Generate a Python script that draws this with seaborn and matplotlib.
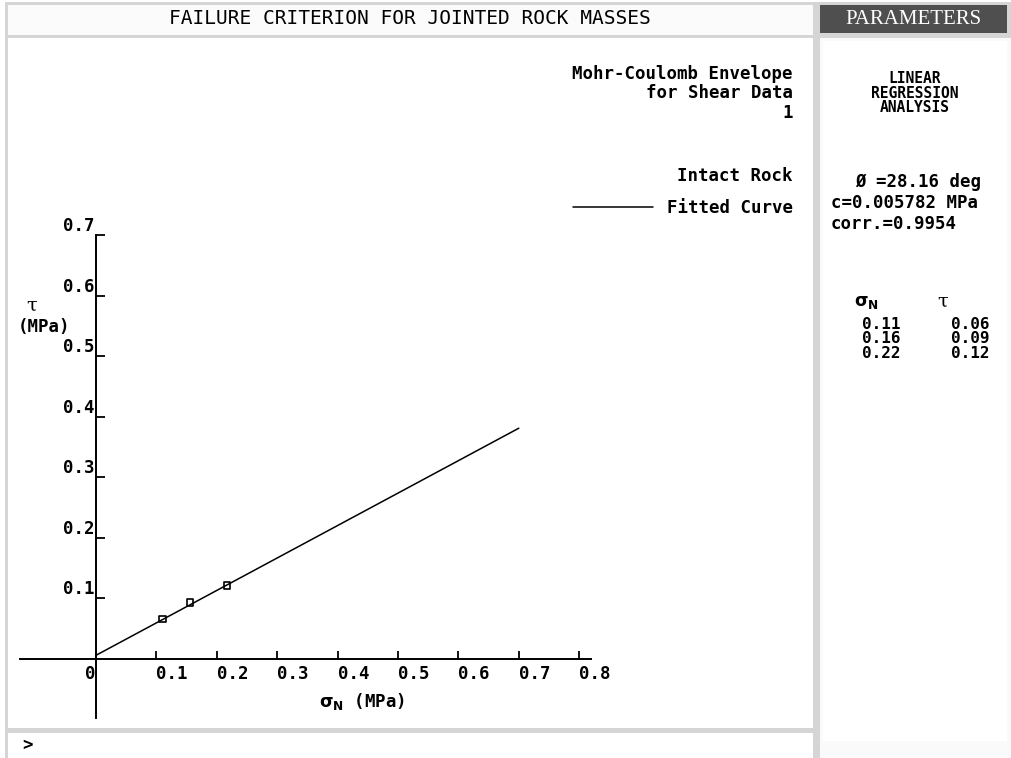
import matplotlib
matplotlib.use("Agg")
import matplotlib.pyplot as plt
from matplotlib.patches import Rectangle
import seaborn as sns

# ---------------- data ----------------
sigma_n = [0.11, 0.156, 0.217]          # plotted shear-test points (MPa)
tau = [0.066, 0.093, 0.121]
fit_x = [0.0, 0.7]                       # fitted Mohr-Coulomb line end points
fit_y = [0.006, 0.381]
x_ticks = [0.0, 0.1, 0.2, 0.3, 0.4, 0.5, 0.6, 0.7, 0.8]
x_labels = ["0", "0.1", "0.2", "0.3", "0.4", "0.5", "0.6", "0.7", "0.8"]
y_ticks = [0.1, 0.2, 0.3, 0.4, 0.5, 0.6, 0.7]
y_labels = ["0.1", "0.2", "0.3", "0.4", "0.5", "0.6", "0.7"]
table_sigma = ["0.11", "0.16", "0.22"]
table_tau = ["0.06", "0.09", "0.12"]
params = ["\u00d8 =28.16 deg", "c=0.005782 MPa", "corr.=0.9954"]
panel_title = ["LINEAR", "REGRESSION", "ANALYSIS"]

W, H = 1012, 758
sns.set_theme(style="white")
plt.rcParams["font.family"] = ["DejaVu Sans Mono", "DejaVu Sans"]
plt.rcParams["font.weight"] = "bold"
plt.rcParams["text.color"] = "black"
plt.rcParams["mathtext.fontset"] = "dejavusans"

fig = plt.figure(figsize=(W / 100, H / 100), dpi=100)
fig.patch.set_facecolor("white")

# ---------- background frames ----------
bg = fig.add_axes([0, 0, 1, 1], zorder=-5)
bg.set_xlim(0, W)
bg.set_ylim(H, 0)
bg.axis("off")
gray = "#d5d5d5"
bg.add_patch(Rectangle((5, 2), W - 5, H - 2, color=gray, lw=0))
bg.add_patch(Rectangle((8, 5), 805, 30, color="#fbfbfb", lw=0))      # title bar
bg.add_patch(Rectangle((8, 38), 805, 690, color="white", lw=0))      # plot area
bg.add_patch(Rectangle((8, 733), 805, 25, color="white", lw=0))      # command bar
bg.add_patch(Rectangle((820, 5), 187, 28, color="#4f4f4f", lw=0))    # PARAMETERS header
bg.add_patch(Rectangle((820, 38), 192, 720, color="#fafafa", lw=0))  # right panel
bg.add_patch(Rectangle((823, 41), 184, 700, color="white", lw=0))

def fx(x):
    return x / W

def fy(y):
    return 1 - y / H

FS = 12.5
fig.text(fx(410), fy(19), "FAILURE CRITERION FOR JOINTED ROCK MASSES",
         ha="center", va="center", fontsize=14, weight="normal")
fig.text(fx(913), fy(19), "PARAMETERS", ha="center", va="center", fontsize=15,
         color="white", family=["Liberation Serif", "DejaVu Serif"], weight="normal")
fig.text(fx(22), fy(745), ">", ha="left", va="center", fontsize=FS)

# ---------- main plot ----------
ax = fig.add_axes([fx(20), fy(718), 571 / W, 483 / H])
ax.patch.set_alpha(0)
sns.lineplot(x=fit_x, y=fit_y, ax=ax, color="black", lw=1.1, label="Fitted Curve")
sns.scatterplot(x=sigma_n, y=tau, ax=ax, marker="s", s=22, facecolor="none",
                edgecolor="black", linewidth=1.2, zorder=5)
ax.set_xlim(-0.1258, 0.8195)
ax.set_ylim(-0.0975, 0.7)
for s in ["top", "right"]:
    ax.spines[s].set_visible(False)
ax.spines["left"].set_position(("data", 0))
ax.spines["bottom"].set_position(("data", 0))
for s in ["left", "bottom"]:
    ax.spines[s].set_color("black")
    ax.spines[s].set_linewidth(1.4)
ax.set_xticks(x_ticks, x_labels)
ax.set_yticks(y_ticks, y_labels)
ax.tick_params(axis="x", bottom=True, direction="in", length=6, width=1.3, pad=4,
               labelsize=FS, colors="black")
ax.tick_params(axis="y", left=True, direction="in", length=6.5, width=1.3, pad=1,
               labelsize=FS, colors="black")
for i, lab in enumerate(ax.get_xticklabels()):
    lab.set_ha("right" if i == 0 else "left")
    lab.set_weight("bold")
for lab in ax.get_yticklabels():
    lab.set_va("bottom")
    lab.set_weight("bold")
ax.set_xlabel("")
ax.set_ylabel("")
ax.grid(False)

leg = ax.legend(loc="center right", bbox_to_anchor=(fx(793), fy(208)),
                bbox_transform=fig.transFigure, frameon=False, fontsize=FS,
                handlelength=4.6, handletextpad=0.8, borderpad=0, borderaxespad=0)
for t in leg.get_texts():
    t.set_weight("bold")
    t.set_color("black")

# axis titles
fig.text(fx(362), fy(701), r"$\mathrm{\sigma_N}$ (MPa)", ha="center", va="center", fontsize=FS)
fig.text(fx(32), fy(306), "\u03c4", ha="center", va="center", fontsize=14, weight="normal",
         family=["DejaVu Serif"])
fig.text(fx(18), fy(327), "(MPa)", ha="left", va="center", fontsize=FS)

# annotation block
fig.text(fx(793), fy(74), "Mohr-Coulomb Envelope", ha="right", va="center", fontsize=FS)
fig.text(fx(793), fy(93), "for Shear Data", ha="right", va="center", fontsize=FS)
fig.text(fx(793), fy(113), "1", ha="right", va="center", fontsize=FS)
fig.text(fx(793), fy(176), "Intact Rock", ha="right", va="center", fontsize=FS)

# ---------- right panel ----------
fig.text(fx(915), fy(93), "\n".join(panel_title), ha="center", va="center",
         fontsize=10.5, linespacing=0.95)
fig.text(fx(918), fy(182), params[0], ha="center", va="center", fontsize=FS)
fig.text(fx(831), fy(203), params[1], ha="left", va="center", fontsize=FS)
fig.text(fx(831), fy(224), params[2], ha="left", va="center", fontsize=FS)

fig.text(fx(866), fy(302), r"$\mathrm{\sigma_N}$", ha="center", va="center", fontsize=FS)
fig.text(fx(943), fy(302), "\u03c4", ha="center", va="center", fontsize=14,
         weight="normal", family=["DejaVu Serif"])
fig.text(fx(881), fy(339), "\n".join(table_sigma), ha="center", va="center",
         fontsize=11.5, linespacing=0.95)
fig.text(fx(970), fy(339), "\n".join(table_tau), ha="center", va="center",
         fontsize=11.5, linespacing=0.95)

fig.savefig("out.png", dpi=100)
